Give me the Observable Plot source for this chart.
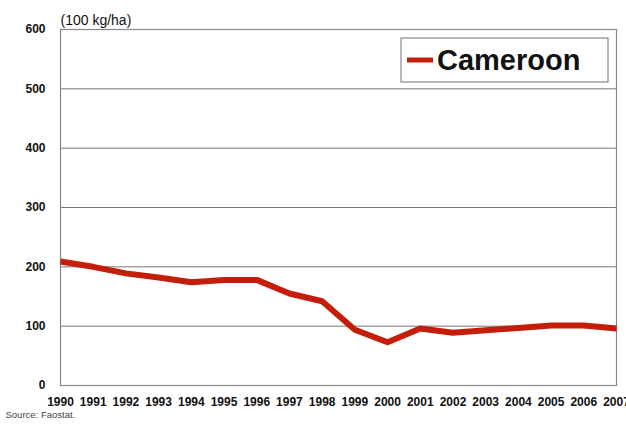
<!DOCTYPE html>
<html>
<head>
<meta charset="utf-8">
<script src="https://cdn.jsdelivr.net/npm/d3@7"></script>
<script src="https://cdn.jsdelivr.net/npm/@observablehq/plot@0.6"></script>
<style>
  html, body { margin: 0; padding: 0; background: #fff; }
  svg { font-family: "Liberation Sans", Arial, sans-serif; }
</style>
</head>
<body>
<div id="chart"></div>
<script>
const years = [1990,1991,1992,1993,1994,1995,1996,1997,1998,1999,2000,2001,2002,2003,2004,2005,2006,2007];
const yieldValues = [209,200,189,182,174,178,178,155,142,94,73,96,89,93,97,101,101,96];
const seriesName = "Cameroon";
const yTicks = [0,100,200,300,400,500,600];
const unitLabel = "(100 kg/ha)";
const sourceText = "Source: Faostat.";

const data = years.map((y, i) => ({year: y, value: yieldValues[i]}));
const red = "#c41e0a";

const legendMark = () => {
  const g = d3.create("svg:g");
  const x0 = 401, y0 = 38, w = 207, h = 44;
  g.append("rect").attr("x", x0).attr("y", y0).attr("width", w).attr("height", h)
    .attr("fill", "#fff").attr("stroke", "#888").attr("stroke-width", 1.2);
  g.append("line").attr("x1", x0 + 6).attr("x2", x0 + 32).attr("y1", y0 + 22).attr("y2", y0 + 22)
    .attr("stroke", red).attr("stroke-width", 5);
  g.append("text").attr("x", x0 + 36).attr("y", y0 + 32).text(seriesName)
    .attr("text-anchor", "start")
    .attr("font-size", 29).attr("font-weight", "bold").attr("fill", "#111");
  return g.node();
};

const chart = Plot.plot({
  width: 626,
  height: 425,
  marginTop: 29,
  marginBottom: 40,
  marginLeft: 60,
  marginRight: 10,
  style: {fontFamily: "Liberation Sans, Arial, sans-serif", background: "#fff", overflow: "visible"},
  x: {domain: [1990, 2007], ticks: years, tickFormat: "d", label: null, tickSize: 0, tickPadding: 12},
  y: {domain: [0, 600], ticks: yTicks, label: null, tickSize: 0, tickPadding: 15},
  marks: [
    Plot.gridY(yTicks.filter(d => d > 0), {stroke: "#777", strokeOpacity: 1, strokeWidth: 1}),
    Plot.frame({stroke: "#888", strokeWidth: 1.2}),
    Plot.axisY({ticks: yTicks, tickSize: 0, tickPadding: 15, fontSize: 12, fontWeight: "bold", fill: "#111", label: null}),
    Plot.axisX({ticks: years, tickFormat: "d", tickSize: 0, tickPadding: 12, fontSize: 12, fontWeight: "bold", fill: "#111", label: null}),
    Plot.lineY(data, {x: "year", y: "value", stroke: red, strokeWidth: 6, strokeLinejoin: "round", strokeLinecap: "butt"}),
    Plot.text([unitLabel], {frameAnchor: "top-left", dx: 0, dy: -14, fontSize: 14, fill: "#111", textAnchor: "start"}),
    Plot.text([sourceText], {frameAnchor: "bottom-left", dx: -55, dy: 32, fontSize: 9.5, fill: "#444", textAnchor: "start"}),
    legendMark
  ]
});
document.getElementById("chart").appendChild(chart);
</script>
</body>
</html>
